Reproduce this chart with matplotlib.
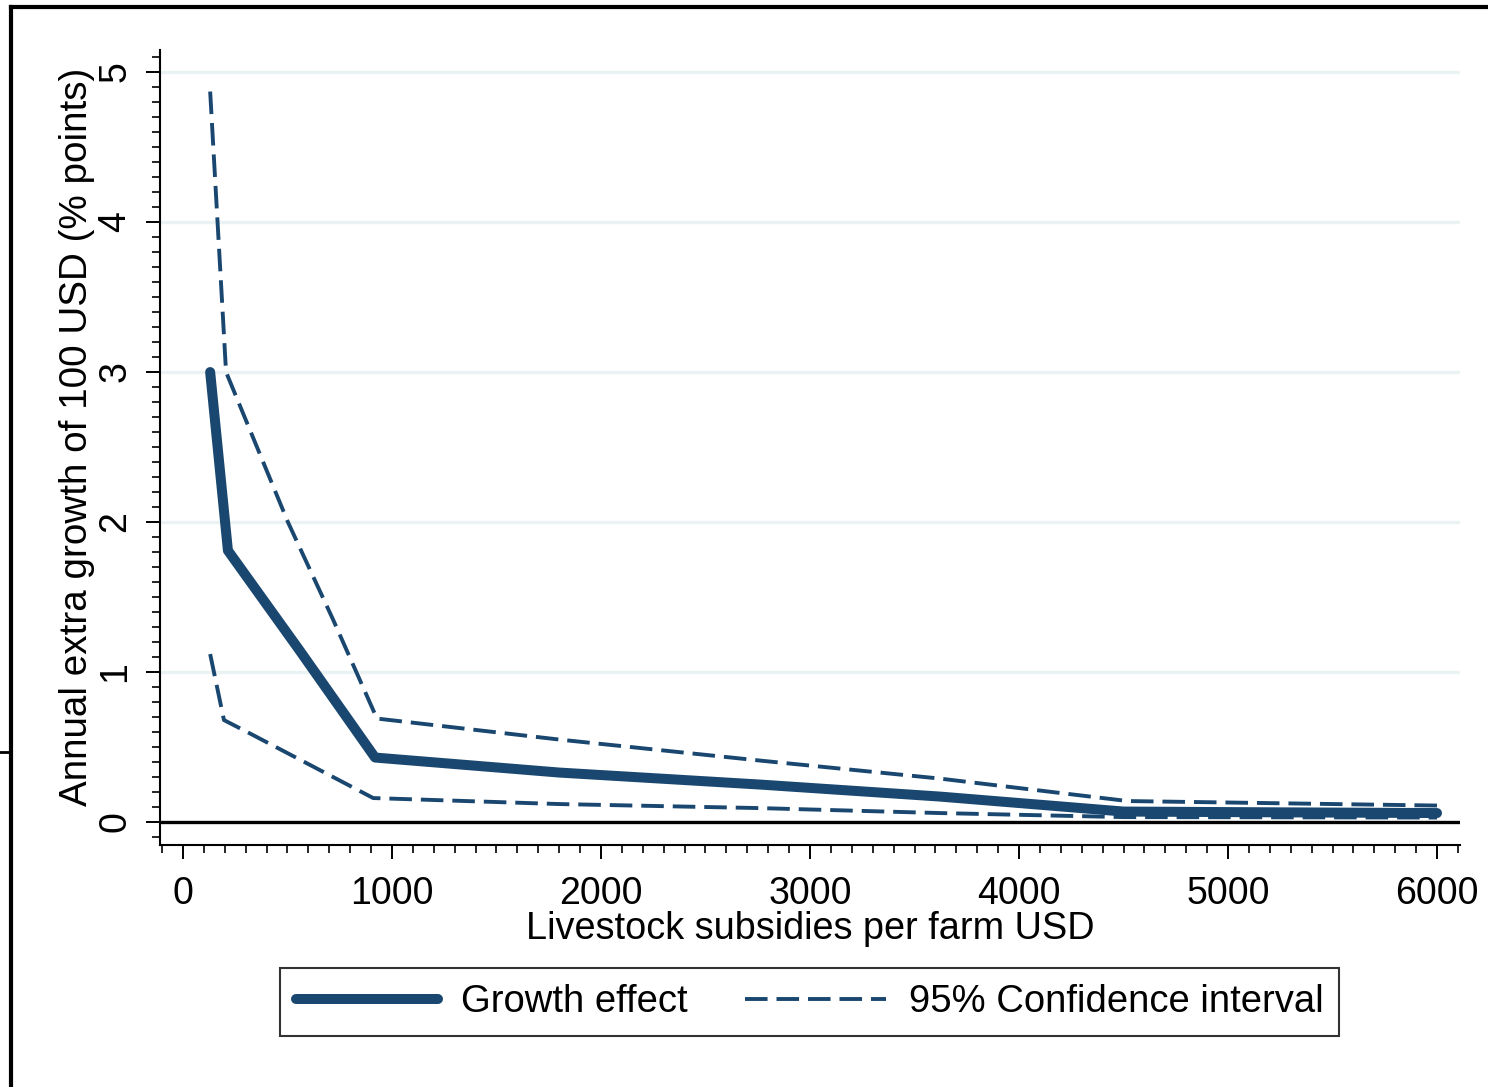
import numpy as np
import matplotlib
matplotlib.use("Agg")
import matplotlib.pyplot as plt
from matplotlib.lines import Line2D
from matplotlib.ticker import MultipleLocator

plt.rcParams["font.family"] = ["Liberation Sans", "DejaVu Sans"]

# ---------- data ----------
x_eff = [130, 215, 560, 919, 1800, 2760, 3620, 4500, 5200, 6000]
eff = [3.00, 1.81, 1.14, 0.43, 0.33, 0.25, 0.17, 0.07, 0.065, 0.06]

x_up = [130, 206, 502, 718, 928, 1800, 2760, 3620, 4520, 6000]
ci_up = [4.87, 3.00, 2.00, 1.35, 0.69, 0.55, 0.41, 0.29, 0.14, 0.11]

x_lo = [130, 196, 335, 910, 1800, 2760, 3620, 4500, 6000]
ci_lo = [1.12, 0.68, 0.58, 0.16, 0.12, 0.093, 0.06, 0.033, 0.03]

x_ticks = [0, 1000, 2000, 3000, 4000, 5000, 6000]
y_ticks = [0, 1, 2, 3, 4, 5]

NAVY = "#1a476f"
GRID = "#eaf2f3"
FS = 27

fig = plt.figure(figsize=(14.88, 10.87), dpi=100)
ax = fig.add_axes([160/1488, 242/1087, 1300/1488, 795/1087])

for yv in y_ticks[1:]:
    ax.axhline(yv, color=GRID, lw=2.4, zorder=0)
ax.axhline(0, color="black", lw=2.4, zorder=1)

ax.plot(x_up, ci_up, color=NAVY, lw=2.8, dashes=(5.8, 2.3), zorder=3)
ax.plot(x_lo, ci_lo, color=NAVY, lw=2.8, dashes=(5.8, 2.3), zorder=3,
        label="95% Confidence interval")
ax.plot(x_eff, eff, color=NAVY, lw=7.2, solid_capstyle="round",
        solid_joinstyle="round", zorder=4, label="Growth effect")

ax.set_xlim(-110, 6110)
ax.set_ylim(-0.153, 5.147)
ax.set_xticks(x_ticks)
ax.set_yticks(y_ticks)
ax.xaxis.set_minor_locator(MultipleLocator(100))
ax.yaxis.set_minor_locator(MultipleLocator(0.1))
ax.tick_params(which="major", length=10, width=1.4, labelsize=FS, direction="out")
ax.tick_params(which="minor", length=6, width=1.2, direction="out")
ax.tick_params(axis="y", pad=9)
ax.tick_params(axis="x", pad=12.5)
for lab in ax.get_yticklabels():
    lab.set_rotation(90)
    lab.set_verticalalignment("center")

for s in ["top", "right"]:
    ax.spines[s].set_visible(False)
for s in ["left", "bottom"]:
    ax.spines[s].set_linewidth(1.5)

ax.set_xlabel("Livestock subsidies per farm USD", fontsize=27.3, labelpad=-1)
ax.set_ylabel("Annual extra growth of 100 USD (% points)", fontsize=27.8, labelpad=2)
ax.yaxis.label.set_y(0.513)

h, l = ax.get_legend_handles_labels()
leg = fig.legend(h[::-1], l[::-1], loc="center", bbox_to_anchor=(0.5443, 0.0782),
                 ncol=2, fontsize=27.5, frameon=True, fancybox=False,
                 handlelength=3.7, handletextpad=0.6, columnspacing=1.5,
                 borderpad=0.42, edgecolor="black")
leg.get_frame().set_linewidth(1.5)

# outer frame fragments
fig.add_artist(Line2D([11/1488, 1], [1 - 6.5/1087] * 2, color="black", lw=3,
                      transform=fig.transFigure))
fig.add_artist(Line2D([11/1488] * 2, [0, 1 - 6.5/1087], color="black", lw=3,
                      transform=fig.transFigure))
fig.add_artist(Line2D([0, 11/1488], [1 - 752/1087] * 2, color="black", lw=2,
                      transform=fig.transFigure))

fig.savefig("out.png", dpi=100)
